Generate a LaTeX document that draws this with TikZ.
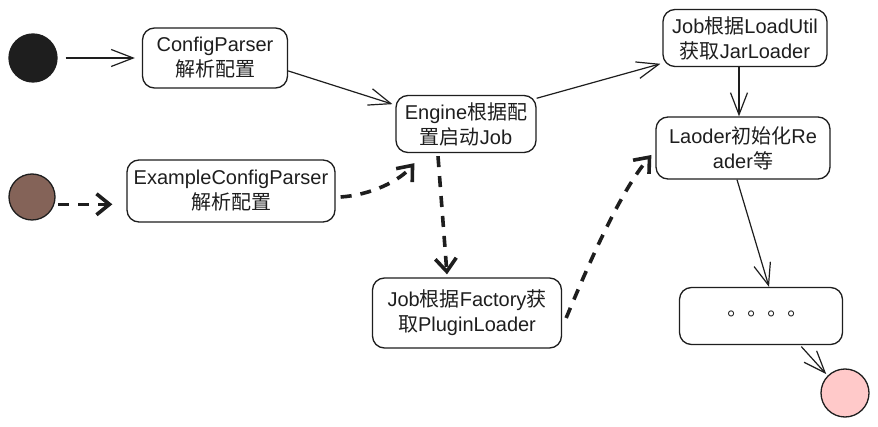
\documentclass[tikz,border=0pt]{standalone}
\usepackage{fontspec}
\setmainfont{Liberation Sans}
\newfontfamily\cjk{Noto Sans CJK SC}
\newfontfamily\cjktc{Noto Sans CJK TC}
\usetikzlibrary{arrows.meta,calc}
\definecolor{ink}{HTML}{1E1E1E}
\definecolor{brownfill}{HTML}{846358}
\definecolor{pinkfill}{HTML}{FFC9C9}
\begin{document}
\begin{tikzpicture}[x=1pt,y=-1pt,
  box/.style={draw=ink, line width=1.3pt, rounded corners=12pt, fill=white, align=center,
    font=\fontsize{20}{25}\selectfont, text=ink, inner sep=0pt},
  startnode/.style={circle, draw=ink, line width=1.3pt, minimum size=48pt, inner sep=0pt},
  arr/.style={draw=ink, line width=1.2pt, -{Straight Barb[length=22pt,width=17pt]}},
  darr/.style={draw=ink, line width=3.6pt, dash pattern=on 11pt off 9pt,
    -{Straight Barb[length=13pt,width=21pt]}},
]
\useasboundingbox[fill=white] (0,0) rectangle (878,427);

\node[startnode, fill=ink] (s1) at (33,58) {};
\node[box, minimum width=145pt, minimum height=60pt] (cp) at (215,58) {ConfigParser\\{\cjk 解析配置}};
\node[startnode, fill=brownfill, minimum size=46pt] (s2) at (32,197) {};
\node[box, minimum width=208pt, minimum height=62pt] (ecp) at (231,191) {ExampleConfigParser\\{\cjk 解析配置}};
\node[box, minimum width=140pt, minimum height=57pt] (eng) at (466,124) {Engine{\cjk 根据配}\\{\cjk 置启动}Job};
\node[box, minimum width=164pt, minimum height=57pt] (jl) at (745,38) {Job{\cjk 根据}LoadUtil\\{\cjk 获取}JarLoader};
\node[box, minimum width=174pt, minimum height=62pt] (ld) at (743,148) {Laoder{\cjk 初始化}Re\\ader{\cjk 等}};
\node[box, minimum width=189pt, minimum height=70pt] (jf) at (467,313) {Job{\cjk 根据}Factory{\cjk 获}\\{\cjk 取}PluginLoader};
\node[box, minimum width=163pt, minimum height=57pt] (dots) at (761,316) {{\cjktc 。。。。}};
\node[startnode, fill=pinkfill] (s3) at (845,393) {};

\draw[arr] ([xshift=8pt]s1.east) -- ([xshift=-7pt]cp.west);
\draw[arr, shorten >=3pt] (cp.-10) -- (eng.165);
\draw[darr] ([xshift=4pt]s2.-18) -- ([xshift=-14pt]s2.-18 -| ecp.west);
\draw[darr] ($(ecp.east)+(5,6)$) .. controls +(30,-2) and +(-15,18) .. ($(eng.south west)+(19,10)$);
\draw[arr, shorten >=2pt] (eng.20) -- (jl.-163);
\draw[arr] ([xshift=-6pt]jl.south) -- ([xshift=-6pt]jl.south |- ld.north);
\draw[darr] ($(eng.south)+(-28,3)$) -- ($(jf.north)+(-20,-3)$);
\draw[darr] ($(jf.east)+(4,5)$) .. controls +(25,-60) and +(-30,35) .. ($(ld.west)+(-4,7)$);
\draw[arr] ($(ld.south)+(-6,0)$) -- ($(dots.north)+(8,0)$);
\draw[arr, shorten <=2pt, shorten >=2pt] ($(dots.south)+(39,0)$) -- (s3.135);
\end{tikzpicture}
\end{document}
